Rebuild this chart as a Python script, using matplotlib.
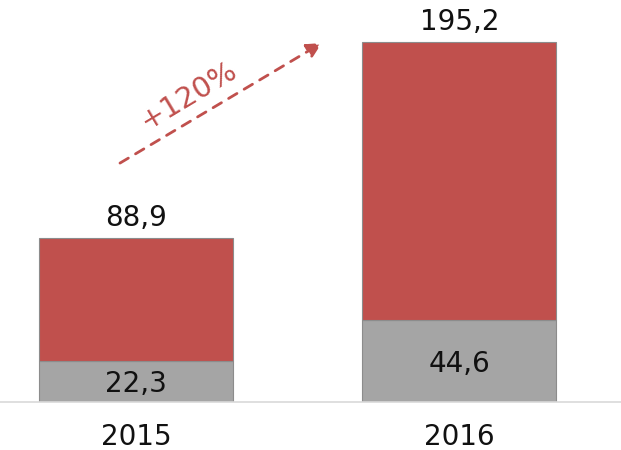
import matplotlib
matplotlib.use("Agg")
import matplotlib.pyplot as plt

# Data
years = ["2015", "2016"]
base_values = [22.3, 44.6]        # grey segment
total_values = [88.9, 195.2]      # full bar height
growth_label = "+120%"

red = "#c0504d"
grey = "#a5a5a5"
edge = "#8c8c8c"
text_color = "#111111"

top_values = [t - b for t, b in zip(total_values, base_values)]

fig = plt.figure(figsize=(6.21, 4.5), dpi=100)
ax = fig.add_axes([0, 48 / 450, 1, 402 / 450])

x = list(range(len(years)))
width = 0.6
ax.bar(x, base_values, width=width, color=grey, edgecolor=edge, linewidth=0.8, zorder=2)
ax.bar(x, top_values, width=width, bottom=base_values, color=red, edgecolor=edge,
       linewidth=0.8, zorder=2)

def fmt(v):
    return f"{v:.1f}".replace(".", ",")

for xi, b, t in zip(x, base_values, total_values):
    ax.text(xi, b / 2 - 1.5, fmt(b), ha="center", va="center", fontsize=20,
            color=text_color)
    ax.text(xi, t + 3, fmt(t), ha="center", va="bottom", fontsize=20, color=text_color)

ax.set_xlim(-0.42, 1.5)
ax.set_ylim(0, 217.9)

# Growth arrow between the bars
tail = (-0.049, 129.5)
tip = (0.575, 194.6)
ax.annotate("", xy=tip, xytext=tail,
            arrowprops=dict(arrowstyle="-|>,head_length=0.9,head_width=0.45",
                            linestyle=(0, (3.5, 3)), color=red, lw=2,
                            shrinkA=0, shrinkB=0))
ax.text(0.165, 166, growth_label, rotation=31, rotation_mode="anchor",
        ha="center", va="center", fontsize=21, color=red)

ax.set_xticks(x)
ax.set_xticklabels(years, fontsize=20, color=text_color)
ax.tick_params(axis="x", length=0, pad=15)
ax.set_yticks([])
for side in ("top", "left", "right"):
    ax.spines[side].set_visible(False)
ax.spines["bottom"].set_color("#d9d9d9")
ax.spines["bottom"].set_linewidth(1.2)

fig.savefig("out.png", dpi=100)
